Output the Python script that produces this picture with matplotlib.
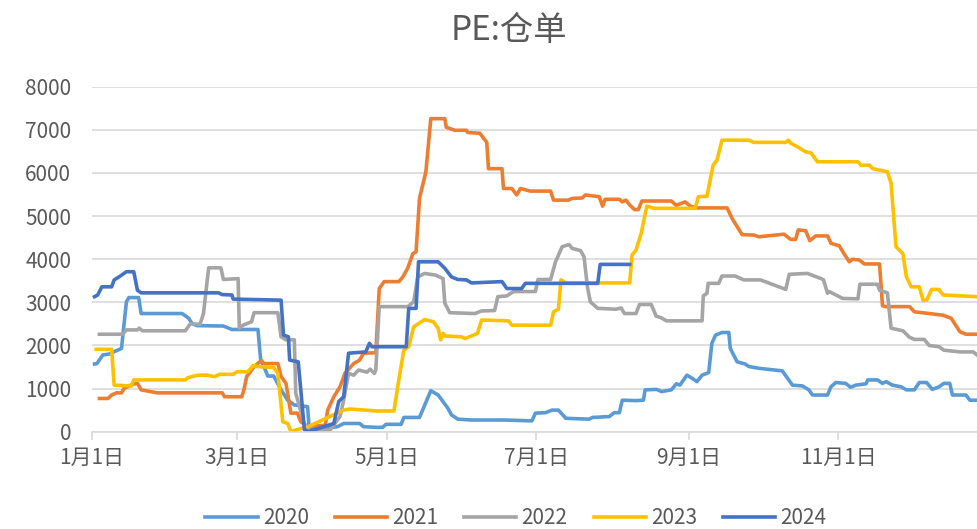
import matplotlib
matplotlib.use("Agg")
import matplotlib.pyplot as plt

# day of year (0 = Jan 1) and warehouse receipt values
d2020 = [1, 2, 4.4, 7, 10, 12, 14, 15, 19, 20, 36.7, 39.4, 40.7, 42.7, 53.5, 57, 67.6, 68.7, 70.3, 71.6, 74, 77,
         79.7, 82.4, 87.8, 88.4, 89, 100, 102.5, 109, 110.6, 116, 118.4, 119.7, 125.9, 127, 133.4, 138, 141, 145,
         146.4, 149, 154.6, 168.3, 179.2, 180.6, 184.7, 187.4, 190, 193, 202.5, 203.9, 210.7, 212.7, 214.8, 216,
         221.6, 224.6, 225.3, 230, 232, 236, 238, 239.5, 242.3, 244.4, 246.4, 248.5, 251.2, 252.5, 254, 256.6,
         259.4, 260, 262.8, 266, 267.6, 271.6, 281.2, 285.3, 289.4, 292, 293.5, 299.6, 301, 303, 307, 309, 311.2,
         315.3, 316, 320, 322, 323.5, 326, 329.6, 331.7, 335, 337, 340, 342.3, 345, 347, 349.4, 350.5, 356, 357.6,
         360.5]
v2020 = [1570, 1580, 1780, 1800, 1880, 1930, 3010, 3110, 3110, 2740, 2740, 2630, 2510, 2460, 2450, 2370, 2370, 1660,
         1470, 1290, 1290, 970, 730, 620, 580, 115, 40, 115, 190, 190, 115, 100, 100, 170, 170, 330, 330, 950, 850,
         540, 390, 290, 270, 270, 250, 430, 440, 500, 500, 310, 290, 330, 350, 440, 440, 730, 720, 730, 970, 980,
         930, 970, 1110, 1080, 1310, 1240, 1160, 1310, 1370, 2050, 2240, 2300, 2300, 1930, 1620, 1570, 1510, 1470,
         1410, 1080, 1060, 970, 850, 850, 1040, 1140, 1120, 1030, 1080, 1110, 1200, 1200, 1120, 1160, 1080, 1040,
         970, 970, 1140, 1140, 980, 1040, 1120, 1120, 850, 850, 730, 730]

d2021 = [3, 6.5, 8, 10, 12, 13, 16.5, 18.5, 20, 26.6, 53, 54, 61, 62, 63, 64, 66, 69, 70, 75.7, 77, 79, 81, 83.7,
         85, 88, 95, 96, 98.5, 101, 103, 106.6, 109, 110.6, 115.6, 117, 119, 125, 126.6, 128.6, 130.7, 132, 133.4,
         136, 138, 143.7, 144.3, 147.8, 152.5, 153, 158, 160.8, 161.5, 167, 167.6, 171, 173, 174.5, 178.5, 186.8,
         188, 194, 195.6, 199.7, 201, 206.6, 208, 209, 214.8, 216, 217.5, 219, 221, 222.5, 224, 236, 238, 241.6,
         243.7, 246.4, 258.7, 260.7, 264.8, 269.6, 271.6, 281.9, 284.6, 286.6, 287.7, 290.7, 292.4, 294.8, 299.6,
         301, 304.4, 306.4, 308.5, 309.8, 312.6, 314.6, 320.8, 322, 323.5, 333, 335, 341, 346.7, 350, 353.5, 356,
         360.5]
v2021 = [770, 770, 850, 900, 900, 1000, 1100, 1120, 970, 900, 900, 810, 810, 1000, 1280, 1350, 1510, 1650, 1580,
         1580, 1280, 1120, 430, 430, 230, 115, 150, 500, 810, 1040, 1350, 1580, 1660, 1820, 1830, 3320, 3480, 3480,
         3590, 3790, 4130, 4170, 5410, 6030, 7260, 7260, 7060, 6990, 6990, 6940, 6920, 6710, 6100, 6100, 5640, 5640,
         5490, 5640, 5580, 5580, 5370, 5370, 5410, 5420, 5490, 5450, 5230, 5390, 5390, 5330, 5370, 5260, 5150, 5150,
         5350, 5350, 5250, 5330, 5230, 5190, 5190, 4950, 4570, 4560, 4520, 4580, 4460, 4460, 4680, 4660, 4430, 4540,
         4540, 4370, 4310, 4120, 3940, 4000, 3980, 3890, 3890, 2920, 2900, 2900, 2780, 2740, 2700, 2630, 2320, 2260,
         2260]

d2022 = [3, 12.5, 14, 18.5, 19.2, 20.5, 38, 40, 44, 45.4, 47.5, 52.5, 53.5, 59.5, 60, 61.5, 65, 66, 75.7, 77, 79,
         82.4, 83, 86.4, 89, 97, 101, 102.5, 104.5, 106.6, 108.6, 112, 113.3, 115, 115.6, 117, 128.6, 131, 132.7,
         135.5, 140, 143, 143.7, 145.7, 156, 158.7, 164, 165.3, 169, 171.7, 180.6, 181.7, 186.8, 188.8, 191.5,
         194.3, 195.6, 199, 200.4, 201.8, 203, 206, 213.4, 215.5, 216.9, 221.6, 223, 227.8, 229.8, 231.9, 234,
         248.5, 249, 250.5, 251, 255.3, 256.6, 262, 265.5, 272.3, 282.6, 284, 291.5, 297, 298, 299.6, 300.3, 305.8,
         312, 312.8, 320, 320.8, 324, 325.5, 330.3, 333, 335, 339, 341, 345, 347, 353.5, 359, 360.5]
v2022 = [2260, 2260, 2360, 2360, 2400, 2340, 2340, 2500, 2490, 2740, 3800, 3800, 3530, 3550, 2400, 2470, 2550,
         2760, 2760, 2200, 2130, 2130, 890, 190, 0, 40, 350, 730, 1350, 1310, 1430, 1380, 1450, 1350, 1430, 2900,
         2900, 3010, 3590, 3670, 3630, 3550, 2980, 2760, 2740, 2800, 2810, 3130, 3150, 3250, 3250, 3530, 3530, 3940,
         4290, 4340, 4250, 4200, 4060, 3360, 3010, 2860, 2840, 2870, 2740, 2740, 2950, 2950, 2680, 2640, 2570, 2570,
         3150, 3210, 3440, 3440, 3610, 3610, 3520, 3520, 3300, 3650, 3670, 3550, 3520, 3210, 3250, 3090, 3080, 3420,
         3420, 3280, 3220, 2400, 2340, 2190, 2140, 2140, 2000, 1970, 1890, 1850, 1850, 1780]

d2023 = [1.7, 8, 9, 16, 17, 38, 39, 43, 47, 50, 52, 57.5, 59, 63.5, 65.6, 67.6, 74, 75.7, 77.7, 79.7, 81, 83, 88,
         102.5, 105, 116, 123, 124.5, 127, 129, 131, 135.5, 139, 141, 142, 143, 143.7, 150.5, 152, 157, 158.7,
         169.7, 171, 186.8, 188, 190, 191, 193, 219, 220, 221.6, 223.7, 226, 229, 245.7, 247, 250.5, 253, 254.6,
         256.6, 267.5, 269.6, 282.6, 283.7, 284.6, 287.3, 290.7, 292.8, 295.5, 312, 313.3, 316.7, 318, 324, 325.5,
         327.5, 330.3, 331.7, 333.7, 337, 338.5, 340, 342, 345, 346.7, 353.5, 360.5]
v2023 = [1910, 1910, 1080, 1060, 1200, 1200, 1250, 1310, 1310, 1275, 1330, 1330, 1390, 1390, 1530, 1510, 1490,
         1350, 230, 190, 0, 40, 115, 500, 525, 480, 480, 1040, 1890, 1970, 2430, 2600, 2550, 2400, 2130, 2280, 2220,
         2200, 2160, 2280, 2590, 2570, 2470, 2470, 2780, 2840, 3520, 3450, 3450, 4100, 4210, 4600, 5230, 5180, 5180,
         5450, 5460, 6180, 6300, 6760, 6760, 6710, 6710, 6760, 6690, 6610, 6490, 6470, 6260, 6260, 6180, 6180, 6100,
         6030, 5760, 4290, 4130, 3600, 3360, 3360, 3050, 3050, 3300, 3300, 3170, 3150, 3130]

d2024 = [1, 2.3, 4, 8, 9, 11, 14, 17, 18.5, 20, 51.5, 53, 57, 57.5, 77, 78, 80, 80.5, 84, 86.5, 88, 98.5, 100.5,
         102.5, 104.5, 111.5, 113, 114, 128, 129, 132, 133, 141, 143.7, 146.4, 149, 152.5, 154.6, 167, 169, 175,
         176.5, 206, 207, 219]
v2024 = [3130, 3170, 3360, 3360, 3520, 3590, 3710, 3710, 3280, 3220, 3220, 3180, 3170, 3075, 3050, 2240, 2200,
         1660, 1620, 50, 0, 190, 700, 810, 1820, 1850, 2050, 1970, 1970, 2860, 2860, 3940, 3940, 3790, 3590, 3530,
         3520, 3450, 3480, 3320, 3320, 3440, 3440, 3880, 3880]

series = [("2020", d2020, v2020, "#5B9BD5"),
          ("2021", d2021, v2021, "#ED7D31"),
          ("2022", d2022, v2022, "#A5A5A5"),
          ("2023", d2023, v2023, "#FFC000"),
          ("2024", d2024, v2024, "#4472C4")]

tick_days = [0, 59, 120, 181, 243, 304]
tick_labels = ["1月1日", "3月1日", "5月1日", "7月1日", "9月1日", "11月1日"]

plt.rcParams["font.family"] = ["Noto Sans CJK SC", "DejaVu Sans"]
txt = "#595959"

fig = plt.figure(figsize=(9.77, 5.29), dpi=100)
ax = fig.add_axes([0.0942, 0.184, 0.9058, 0.652])
for name, d, v, c in series:
    ax.plot(d, v, color=c, lw=2.6, label=name, solid_joinstyle="round")

ax.set_xlim(0, 360.5)
ax.set_ylim(0, 8000)
ax.set_yticks(range(0, 8001, 1000))
ax.set_xticks(tick_days)
ax.set_xticklabels(tick_labels)
ax.grid(axis="y", color="#D9D9D9", lw=1.2)
ax.set_axisbelow(True)
for s in ("top", "right", "left"):
    ax.spines[s].set_visible(False)
ax.spines["bottom"].set_color("#D9D9D9")
ax.spines["bottom"].set_linewidth(1.2)
ax.tick_params(axis="y", length=0, pad=15, labelsize=15, labelcolor=txt)
ax.tick_params(axis="x", length=6, width=1.2, color="#D9D9D9", pad=5, labelsize=15, labelcolor=txt)

fig.text(0.521, 0.943, "PE:仓单", ha="center", va="center", fontsize=24, color=txt)
fig.legend(loc="center", ncol=5, frameon=False, bbox_to_anchor=(0.528, 0.02),
           fontsize=15, labelcolor=txt, handlelength=2.5, columnspacing=1.25, handletextpad=0.25)

fig.savefig("out.png", dpi=100)
